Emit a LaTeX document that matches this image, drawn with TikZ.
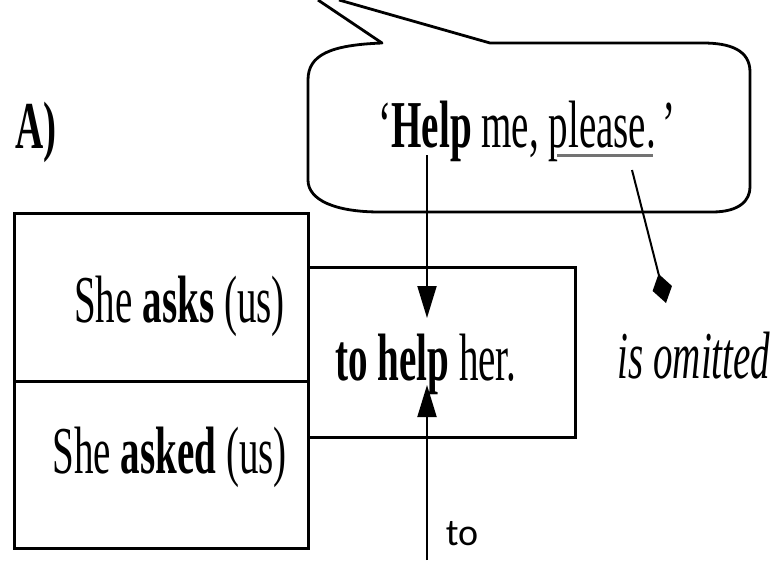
\documentclass[tikz,border=0pt]{standalone}
\usepackage{fontspec}
\setmainfont{Liberation Serif}
\newfontfamily\tofont{Carlito}
\usepackage{graphicx}
\usetikzlibrary{arrows.meta}

\newcommand{\narrowtext}[1]{\scalebox{0.583}[1]{#1}}
\tikzset{
  cell/.style={draw, line width=3pt, anchor=north west, inner sep=0pt, outer sep=0pt},
  words/.style={font=\fontsize{67}{70}\selectfont, inner sep=0pt, anchor=base},
  link/.style={line width=2pt, -{Triangle[length=32pt,width=19pt]}},
}

\begin{document}
\begin{tikzpicture}[x=1pt,y=-1pt]
\useasboundingbox (0,0) rectangle (776,560);

% speech bubble
\draw[line width=2.8pt, line join=round] (318,0) -- (382,43)
  .. controls (330,45) and (308,55) .. (308,80) -- (308,180)
  .. controls (308,200) and (335,212) .. (380,212) -- (712,212)
  .. controls (740,212) and (750,200) .. (750,187) -- (750,72)
  .. controls (750,50) and (730,43) .. (703,43) -- (490,43) -- (339,0);

\node[words] (label) at (36,148) {\narrowtext{\textbf{A)}}};
\node[words] (quote) at (527,147) {\narrowtext{‘\textbf{Help} me, please.\,’}};
\draw[line width=3pt, black!55] (557,155) -- (653,155);

% boxes
\node[cell, minimum width=294pt, minimum height=168pt] (asks) at (14,213) {};
\node[cell, minimum width=294pt, minimum height=167pt] (asked) at (14,381) {};
\node[cell, minimum width=267pt, minimum height=170pt] (her) at (308,267) {};

\node[words, anchor=base east] (asksT) at (285,322) {\narrowtext{She \textbf{asks} (us)}};
\node[words, anchor=base east] (askedT) at (287,473) {\narrowtext{She \textbf{asked} (us)}};
\node[words] (herT) at (426,380) {\narrowtext{\textbf{to help} her.}};
\node[words, font=\fontsize{67}{70}\selectfont\itshape] (omit) at (694,378) {\narrowtext{is omitted}};
\node[font=\tofont\fontsize{38}{40}\selectfont, inner sep=0pt, anchor=base] (to) at (462,545) {to};

% arrows
\coordinate (helpsrc) at (427,155);
\coordinate (helpdst) at (427,318);
\coordinate (tosrc) at (427,560);
\coordinate (todst) at (427,385);
\coordinate (pleasesrc) at (632,170);
\coordinate (pleasedst) at (666,303);

\draw[link] (helpsrc) -- (helpdst);
\draw[link] (tosrc) -- (todst);
\draw[line width=2pt, -{Diamond[length=30pt,width=20pt]}] (pleasesrc) -- (pleasedst);

\end{tikzpicture}
\end{document}
